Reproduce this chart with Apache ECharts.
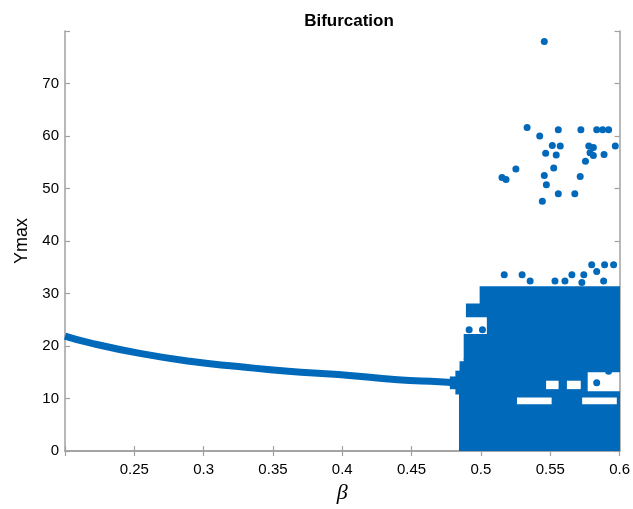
<!DOCTYPE html>
<html>
<head>
    <meta charset="utf-8">
    <title>Bifurcation</title>
    <script src="https://cdn.jsdelivr.net/npm/echarts@6/dist/echarts.min.js"></script>
    <style>
        html, body { margin: 0; padding: 0; background: #fff; }
        #main { width: 633px; height: 509px; }
    </style>
</head>
<body>
<div id="main"></div>
<script>
    // period-1 branch
    var curveBeta = [0.200, 0.218, 0.254, 0.290, 0.325, 0.361, 0.397, 0.440, 0.470, 0.482];
    var curveY    = [21.9, 20.6, 18.6, 17.1, 16.1, 15.2, 14.6, 13.6, 13.2, 13.0];

    // dense chaotic region as bands: [beta0, beta1, y0, y1]
    var denseBands = [
        [0.4780, 0.4830, 11.9, 14.1],
        [0.4820, 0.4855, 10.9, 15.2],
        [0.4846, 0.6000, 0.0, 11.2],
        [0.4850, 0.4880, 9.0, 17.0],
        [0.4880, 0.6000, 11.2, 17.5],
        [0.4880, 0.6000, 17.5, 22.2],
        [0.5047, 0.6000, 22.2, 25.6],
        [0.4896, 0.6000, 25.6, 28.0],
        [0.4995, 0.6000, 28.0, 31.3]
    ];
    // white holes inside the dense region
    var gapBands = [
        [0.526, 0.551, 8.9, 10.2],
        [0.573, 0.598, 8.9, 10.2],
        [0.577, 0.600, 11.4, 15.0],
        [0.547, 0.556, 11.8, 13.4],
        [0.562, 0.572, 11.8, 13.4]
    ];

    // single points: edge of the cloud and the outliers
    var dotBeta = [0.4915, 0.5011, 0.5168, 0.5297, 0.5656, 0.5742, 0.5799, 0.5892, 0.5957, 0.5355,
                   0.5534, 0.5606, 0.5885, 0.5835, 0.5728, 0.5921, 0.5835,
                   0.5457, 0.5333, 0.5424, 0.5558, 0.5721, 0.5835, 0.5878, 0.5921, 0.5515, 0.5572,
                   0.5778, 0.5811, 0.5969, 0.5467, 0.5543, 0.5787, 0.5811, 0.5888, 0.5754, 0.5525,
                   0.5252, 0.5152, 0.5181, 0.5457, 0.5716, 0.5472, 0.5558, 0.5677, 0.5443];
    var dotY    = [23.1, 23.1, 33.6, 33.6, 33.6, 33.6, 35.5, 35.5, 35.5, 32.4,
                   32.4, 32.4, 32.4, 34.2, 32.1, 15.2, 13.0,
                   78.0, 61.6, 60.0, 61.2, 61.2, 61.2, 61.2, 61.2, 58.2, 58.1,
                   58.1, 57.8, 58.1, 56.7, 56.4, 56.8, 56.3, 56.5, 55.2, 53.9,
                   53.7, 52.1, 51.7, 52.5, 52.3, 50.7, 49.0, 49.0, 47.6];

    var blue = '#0069ba';
    var axisGray = '#a0a0a0';

    function bandItem(fill, pad) {
        return function (params, api) {
            var p0 = api.coord([api.value(0), api.value(3)]);
            var p1 = api.coord([api.value(1), api.value(2)]);
            return {
                type: 'rect',
                shape: {x: p0[0] - pad, y: p0[1] - pad,
                    width: p1[0] - p0[0] + 2 * pad, height: p1[1] - p0[1] + 2 * pad},
                style: {fill: fill}
            };
        };
    }

    var curveData = [];
    for (var i = 0; i < curveBeta.length; i++) curveData.push([curveBeta[i], curveY[i]]);
    var dotData = [];
    for (var j = 0; j < dotBeta.length; j++) dotData.push([dotBeta[j], dotY[j]]);

    var xLine = {lineStyle: {color: axisGray, width: 1.5}};
    var tick = {inside: true, length: 5, lineStyle: {color: axisGray, width: 1.2}};

    var myChart = echarts.init(document.getElementById('main'));
    var option = {
        animation: false,
        title: {
            text: 'Bifurcation', left: 344, top: 8, textAlign: 'center',
            textStyle: {fontFamily: 'Liberation Sans', fontSize: 17, fontWeight: 'bold', color: '#000'}
        },
        grid: {left: 65, right: 10, top: 31, bottom: 57},
        xAxis: [
            {type: 'value', position: 'bottom', min: 0.2, max: 0.6, interval: 0.05,
                axisLine: xLine, axisTick: tick, splitLine: {show: false},
                axisLabel: {color: '#000', fontFamily: 'Liberation Sans', fontSize: 15, margin: 11,
                    formatter: function (v) { return Math.abs(v - 0.2) < 1e-9 ? '' : String(+v.toFixed(2)); }},
                name: 'β', nameLocation: 'middle', nameGap: 30,
                nameTextStyle: {color: '#000', fontFamily: 'Liberation Serif', fontStyle: 'italic', fontSize: 22}},
            {type: 'value', position: 'top', min: 0.2, max: 0.6, interval: 0.05,
                axisLine: xLine, axisTick: tick, axisLabel: {show: false}, splitLine: {show: false}}
        ],
        yAxis: [
            {type: 'value', position: 'left', min: 0, max: 80, interval: 10,
                axisLine: xLine, axisTick: tick, splitLine: {show: false},
                axisLabel: {color: '#000', fontFamily: 'Liberation Sans', fontSize: 15, margin: 6,
                    formatter: function (v) { return v === 80 ? '' : String(v); }},
                name: 'Ymax', nameLocation: 'middle', nameGap: 33,
                nameTextStyle: {color: '#000', fontFamily: 'Liberation Sans', fontSize: 18}},
            {type: 'value', position: 'right', min: 0, max: 80, interval: 10,
                axisLine: xLine, axisTick: tick, axisLabel: {show: false}, splitLine: {show: false}}
        ],
        series: [
            {type: 'custom', name: 'dense', renderItem: bandItem(blue, 0.6), data: denseBands,
                encode: {x: [0, 1], y: [2, 3]}, clip: true, z: 2},
            {type: 'custom', name: 'gaps', renderItem: bandItem('#ffffff', 0), data: gapBands,
                encode: {x: [0, 1], y: [2, 3]}, clip: true, z: 3},
            {type: 'line', name: 'period1', data: curveData, smooth: true, showSymbol: false,
                lineStyle: {color: blue, width: 7}, z: 4},
            {type: 'scatter', name: 'dots', data: dotData, symbolSize: 7,
                itemStyle: {color: blue, opacity: 1}, z: 5}
        ]
    };
    myChart.setOption(option);
</script>
</body>
</html>
